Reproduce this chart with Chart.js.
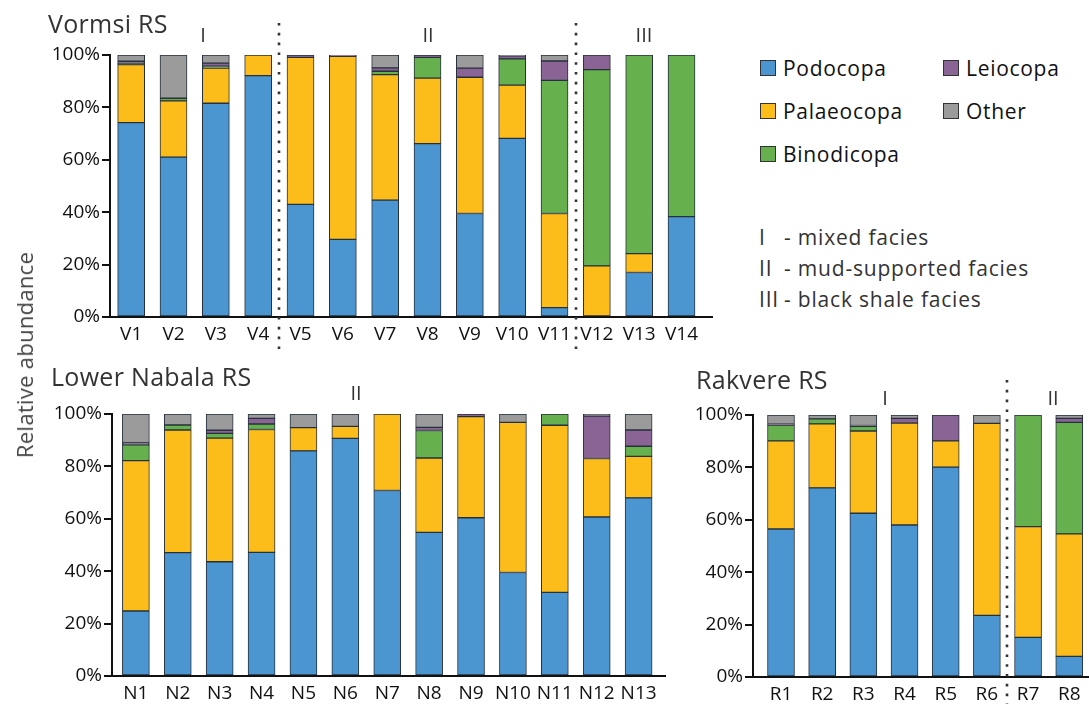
<!DOCTYPE html>
<html>
<head>
<meta charset="utf-8">
<script src="https://cdn.jsdelivr.net/npm/chart.js@4.4.1/dist/chart.umd.min.js"></script>
<style>
  body { margin: 0; width: 1089px; height: 704px; background: #fff; position: relative; overflow: hidden;
         font-family: "Open Sans", sans-serif; color: #333; }
  canvas { position: absolute; }
  .t { position: absolute; white-space: nowrap; line-height: 1; }
  .title { font-size: 25px; color: #333; letter-spacing: 0.3px; }
  .num { font-size: 20px; color: #333; transform: translate(-50%, -50%); }
  .leg { position: absolute; display: flex; align-items: center; font-size: 21px; letter-spacing: 0.7px; color: #111; line-height: 1; }
  .leg i { display: inline-block; width: 14px; height: 14px; border: 1px solid #333; margin-right: 7px; }
  .fac { position: absolute; left: 759px; font-size: 21px; letter-spacing: 0.8px; color: #333; line-height: 1; display: flex; transform: translateY(-50%); }
  .fac span { display: inline-block; width: 25px; }
  .ytitle { position: absolute; left: 24px; top: 355px; font-size: 22px; letter-spacing: 0.3px; color: #444; white-space: nowrap;
            transform: translate(-50%, -50%) rotate(-90deg); }
</style>
</head>
<body>
<canvas id="vormsi" width="730" height="355" style="left:0;top:0"></canvas>
<canvas id="nabala" width="680" height="344" style="left:0;top:360px"></canvas>
<canvas id="rakvere" width="409" height="344" style="left:680px;top:360px"></canvas>

<div class="t title" style="left:48px;top:11px">Vormsi RS</div>
<div class="t title" style="left:51px;top:364px">Lower Nabala RS</div>
<div class="t title" style="left:696px;top:367px">Rakvere RS</div>

<div class="t num" style="left:203px;top:35px">I</div>
<div class="t num" style="left:428px;top:35px">II</div>
<div class="t num" style="left:644px;top:35px">III</div>
<div class="t num" style="left:356px;top:393px">II</div>
<div class="t num" style="left:885px;top:398px">I</div>
<div class="t num" style="left:1053px;top:398px">II</div>

<div class="ytitle">Relative abundance</div>

<div id="legend"></div>

<div class="fac" style="top:237px"><span>I</span>- mixed facies</div>
<div class="fac" style="top:268px"><span>II</span>- mud-supported facies</div>
<div class="fac" style="top:299px"><span>III</span>- black shale facies</div>

<script>
// Taxonomic groups and their fill colours
const groupNames = ['Podocopa', 'Palaeocopa', 'Binodicopa', 'Leiocopa', 'Other'];
const groupColors = ['#4b96d1', '#fcbd1a', '#66b04d', '#8a6494', '#9b9b9b'];

// Vormsi RS samples (% of ostracod assemblage)
const vormsiLabels = ['V1','V2','V3','V4','V5','V6','V7','V8','V9','V10','V11','V12','V13','V14'];
const vPodocopa   = [74.2, 61.0, 81.6, 92.1, 43.0, 29.6, 44.6, 66.2, 39.5, 68.2,  3.6,  0.0, 17.0, 38.3];
const vPalaeocopa = [22.1, 21.5, 13.4,  7.9, 56.1, 69.9, 47.9, 25.0, 52.0, 20.3, 35.9, 19.5,  7.2,  0.0];
const vBinodicopa = [ 0.5,  1.0,  0.7,  0.0,  0.0,  0.0,  1.3,  7.9,  0.0, 10.0, 50.8, 74.9, 75.8, 61.7];
const vLeiocopa   = [ 0.8,  0.0,  1.2,  0.0,  0.9,  0.5,  1.3,  0.9,  3.5,  1.2,  7.4,  5.6,  0.0,  0.0];
const vOther      = [ 2.4, 16.5,  3.1,  0.0,  0.0,  0.0,  4.9,  0.0,  5.0,  0.3,  2.3,  0.0,  0.0,  0.0];

// Lower Nabala RS samples
const nabalaLabels = ['N1','N2','N3','N4','N5','N6','N7','N8','N9','N10','N11','N12','N13'];
const nPodocopa   = [24.8, 47.1, 43.6, 47.2, 85.9, 90.7, 70.8, 54.8, 60.4, 39.5, 31.9, 60.7, 68.0];
const nPalaeocopa = [57.4, 46.8, 47.2, 46.9,  8.9,  4.6, 29.2, 28.4, 38.6, 57.3, 63.8, 22.3, 15.8];
const nBinodicopa = [ 6.0,  1.9,  1.8,  2.1,  0.0,  0.0,  0.0, 10.5,  0.0,  0.0,  4.3,  0.0,  3.9];
const nLeiocopa   = [ 0.8,  0.0,  1.2,  2.1,  0.0,  0.0,  0.0,  1.2,  1.0,  0.0,  0.0, 16.2,  6.2];
const nOther      = [11.0,  4.2,  6.2,  1.7,  5.2,  4.7,  0.0,  5.1,  0.0,  3.2,  0.0,  0.8,  6.1];

// Rakvere RS samples
const rakvereLabels = ['R1','R2','R3','R4','R5','R6','R7','R8'];
const rPodocopa   = [56.5, 72.2, 62.5, 58.0, 80.1, 23.5, 15.1,  7.9];
const rPalaeocopa = [33.6, 24.4, 31.4, 38.9, 10.0, 73.3, 42.3, 46.7];
const rBinodicopa = [ 6.1,  1.9,  1.8,  0.0,  0.0,  0.0, 42.6, 42.6];
const rLeiocopa   = [ 0.3,  0.0,  0.3,  1.8,  9.9,  0.0,  0.0,  1.5];
const rOther      = [ 3.5,  1.5,  4.0,  1.3,  0.0,  3.2,  0.0,  1.3];

// Y axis ticks
const yTicks = [0, 20, 40, 60, 80, 100];

Chart.defaults.font.family = '"Open Sans", sans-serif';
const INK = '#111';
const BAR_EDGE = '#27303d';

// Dotted facies boundaries, placed between samples on the x scale
const facies = {
  id: 'facies',
  afterDatasetsDraw(chart, args, o) {
    if (!o.at) return;
    const ctx = chart.ctx, xs = chart.scales.x;
    ctx.save();
    ctx.strokeStyle = '#333';
    ctx.lineWidth = 2.6;
    ctx.setLineDash([2.6, 7.2]);
    o.at.forEach(v => {
      const x = Math.round(xs.getPixelForValue(v));
      ctx.beginPath();
      ctx.moveTo(x, o.top);
      ctx.lineTo(x, o.bottom);
      ctx.stroke();
    });
    ctx.restore();
  }
};

function stackedChart(id, labels, series, cfg) {
  const datasets = groupNames.map((name, k) => ({
    label: name,
    data: series[k].map((v, i) => ({ x: i, y: v === 0 ? null : v })),
    backgroundColor: groupColors[k],
    borderColor: BAR_EDGE,
    borderWidth: 1,
    borderSkipped: false,
    barThickness: 27,
    stack: 'all'
  }));
  return new Chart(document.getElementById(id), {
    type: 'bar',
    data: { datasets },
    plugins: [facies],
    options: {
      responsive: false,
      animation: false,
      layout: { padding: { top: cfg.top, right: cfg.right, left: 0, bottom: 0 } },
      plugins: {
        legend: { display: false },
        tooltip: { enabled: false },
        facies: cfg.facies
      },
      scales: {
        x: {
          type: 'linear',
          min: cfg.xmin, max: cfg.xmax,
          stacked: true,
          offset: false,
          grid: { display: false, drawTicks: false, tickLength: 0 },
          border: { display: true, color: INK, width: 2 },
          afterBuildTicks: s => { s.ticks = labels.map((_, i) => ({ value: i })); },
          afterFit: s => { s.height = cfg.xh; },
          ticks: {
            autoSkip: false, maxRotation: 0, minRotation: 0,
            padding: 6, color: INK,
            font: { size: 19 },
            callback: v => labels[v]
          }
        },
        y: {
          min: 0, max: 100,
          stacked: true,
          afterBuildTicks: s => { s.ticks = yTicks.map(v => ({ value: v })); },
          afterFit: s => { s.width = cfg.yw; },
          grid: { display: true, drawOnChartArea: false, drawTicks: true, tickLength: 8, color: INK, lineWidth: 2 },
          border: { display: true, color: INK, width: 2 },
          ticks: { padding: 2, color: INK, font: { size: 19 }, callback: v => v + '%' }
        }
      }
    }
  });
}

stackedChart('vormsi', vormsiLabels,
  [vPodocopa, vPalaeocopa, vBinodicopa, vLeiocopa, vOther],
  { top: 55, right: 18, yw: 110, xh: 38, xmin: -0.5, xmax: 13.72,
    facies: { at: [3.5, 10.5], top: 23, bottom: 352 } });

stackedChart('nabala', nabalaLabels,
  [nPodocopa, nPalaeocopa, nBinodicopa, nLeiocopa, nOther],
  { top: 54, right: 15, yw: 112, xh: 28, xmin: -0.57, xmax: 12.63,
    facies: {} });

stackedChart('rakvere', rakvereLabels,
  [rPodocopa, rPalaeocopa, rBinodicopa, rLeiocopa, rOther],
  { top: 55, right: 0, yw: 73, xh: 27, xmin: -0.68, xmax: 7.48,
    facies: { at: [5.5], top: 20, bottom: 344 } });

// Legend in two columns
const legendSpots = [
  { left: 760, top: 68 }, { left: 760, top: 111 }, { left: 760, top: 154 },
  { left: 943, top: 68 }, { left: 943, top: 111 }
];
const legend = document.getElementById('legend');
groupNames.forEach((name, k) => {
  const d = document.createElement('div');
  d.className = 'leg';
  d.style.left = legendSpots[k].left + 'px';
  d.style.top = (legendSpots[k].top - 10) + 'px';
  d.style.height = '20px';
  d.innerHTML = '<i style="background:' + groupColors[k] + '"></i>' + name;
  legend.appendChild(d);
});
</script>
</body>
</html>
